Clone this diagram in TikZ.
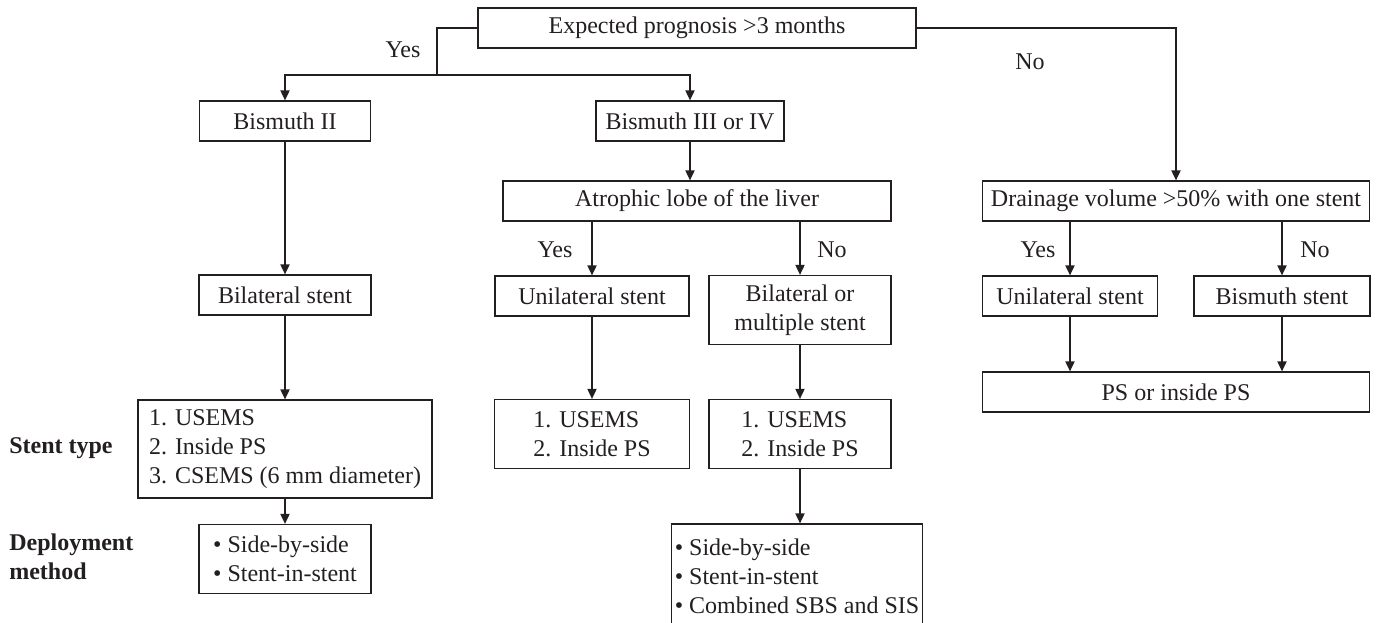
\documentclass[tikz,border=0pt]{standalone}
\usepackage{fontspec}
\setmainfont{Liberation Serif}
\usetikzlibrary{arrows.meta}
\definecolor{ink}{RGB}{35,31,32}

\begin{document}
\begin{tikzpicture}[x=0.5pt, y=-0.5pt, color=ink, line width=0.65pt,
		font=\fontsize{12}{14.5}\selectfont,
		box/.style={rectangle, draw, inner sep=1pt},
		arr/.style={-{Triangle[length=5pt, width=4.6pt]}},
		side/.style={anchor=west, align=left, font=\fontsize{12}{14.5}\selectfont\bfseries}]
		\useasboundingbox (0,0) rectangle (1378,622);
		\clip (0,0) rectangle (1378,622);
		
		\node (rectprog) [box, minimum width=219pt, minimum height=20pt] at (697,28) {Expected prognosis >3 months};
		
		\node (rectbisII) [box, minimum width=85.5pt, minimum height=20pt] at (285,121) {Bismuth II};
		\node (rectbisIII) [box, minimum width=94pt, minimum height=20pt] at (690,121) {Bismuth III or IV};
		
		\node (rectatroph) [box, minimum width=194pt, minimum height=20pt] at (697,201) {Atrophic lobe of the liver};
		\node (rectdrain) [box, minimum width=193.5pt, minimum height=20pt] at (1176,201) {Drainage volume >50\% with one stent};
		
		\node (rectbilat) [box, minimum width=86pt, minimum height=20pt] at (285,295) {Bilateral stent};
		\node (rectuniM) [box, minimum width=97pt, minimum height=20pt] at (592,296) {Unilateral stent};
		\node (rectmulti) [box, minimum width=91pt, minimum height=34.5pt, align=center] at (800,310) {Bilateral or\\multiple stent};
		\node (rectuniR) [box, minimum width=87.5pt, minimum height=20pt] at (1070,296) {Unilateral stent};
		\node (rectbisR) [box, minimum width=88pt, minimum height=20pt] at (1282,296) {Bismuth stent};
		
		\node (rectps) [box, minimum width=193.5pt, minimum height=20pt] at (1176,392) {PS or inside PS};
		
		\node (recttypeL) [box, minimum width=147pt, minimum height=49pt, align=left] at (285,449) {1. USEMS\\2. Inside PS\\3. CSEMS (6 mm diameter)};
		\node (recttypeM) [box, minimum width=97.5pt, minimum height=34.5pt, align=left] at (592,434) {1. USEMS\\2. Inside PS};
		\node (recttypeR) [box, minimum width=91pt, minimum height=34.5pt, align=left] at (800,434) {1. USEMS\\2. Inside PS};
		
		\node (rectdepL) [box, minimum width=86pt, minimum height=34.5pt, align=left] at (285,559) {\textbullet\ Side-by-side\\\textbullet\ Stent-in-stent};
		\node (rectdepM) [box, minimum width=125.5pt, minimum height=52pt, align=left] at (797,576) {\textbullet\ Side-by-side\\\textbullet\ Stent-in-stent\\\textbullet\ Combined SBS and SIS};
		
		\node (lbltype) [side] at (2,448) {Stent type};
		\node (lbldeploy) [side] at (2,557) {Deployment\\method};
		
		% first decision
		\coordinate (yesfork) at (437,75);
		\draw (rectprog.west) -| (yesfork);
		\draw [arr] (yesfork) -| (rectbisII.north);
		\draw [arr] (yesfork) -| (rectbisIII.north);
		\node (lblyes) at (403,50) {Yes};
		\draw [arr] (rectprog.east) -| (rectdrain.north);
		\node (lblno) at (1030,62) {No};
		
		% Bismuth II branch
		\draw [arr] (rectbisII) to (rectbilat);
		\draw [arr] (rectbilat) to (recttypeL);
		\draw [arr] (recttypeL) to (rectdepL);
		
		% Bismuth III or IV branch
		\draw [arr] (rectbisIII.south) to (rectbisIII.south |- rectatroph.north);
		\draw [arr] (rectatroph.south -| rectuniM) to (rectuniM.north);
		\node (lblyesM) at (555,250) {Yes};
		\draw [arr] (rectatroph.south -| rectmulti) to (rectmulti.north);
		\node (lblnoM) at (832,250) {No};
		\draw [arr] (rectuniM) to (recttypeM);
		\draw [arr] (rectmulti) to (recttypeR);
		\draw [arr] (recttypeR.south) to (recttypeR.south |- rectdepM.north);
		
		% drainage branch
		\draw [arr] (rectdrain.south -| rectuniR) to (rectuniR.north);
		\node (lblyesR) at (1038,250) {Yes};
		\draw [arr] (rectdrain.south -| rectbisR) to (rectbisR.north);
		\node (lblnoR) at (1315,250) {No};
		\draw [arr] (rectuniR.south) to (rectuniR.south |- rectps.north);
		\draw [arr] (rectbisR.south) to (rectbisR.south |- rectps.north);
		
		\end{tikzpicture}
\end{document}
